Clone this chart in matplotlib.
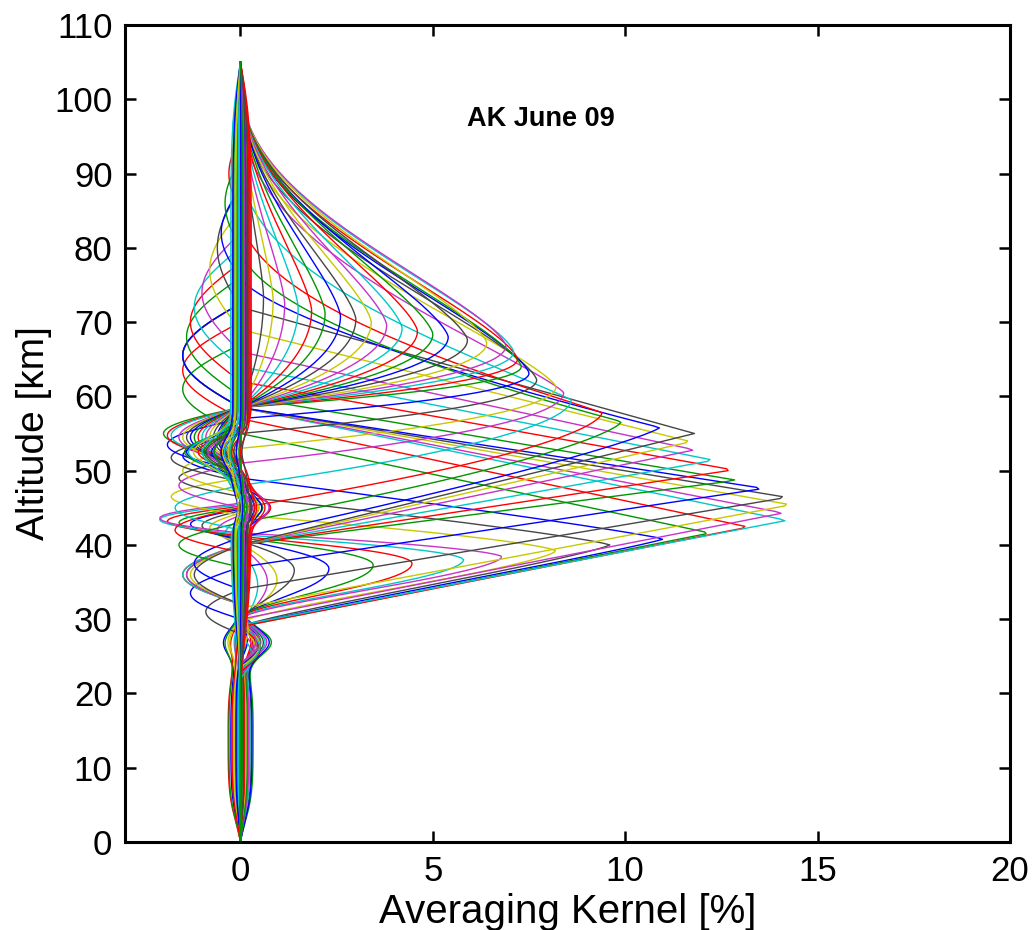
import numpy as np
import matplotlib
matplotlib.use("Agg")
import matplotlib.pyplot as plt

# ---------------- data ----------------
alt = np.arange(0.0, 105.001, 0.25)          # altitude grid [km]

# active kernels, ordered by nominal altitude
peak_alt = [34.5, 35.0, 35.3, 36.6, 36.8, 37.3, 37.5, 38.0, 38.4, 39.2,
            40.0, 40.8, 41.6, 42.4, 43.3, 44.3, 45.4, 46.4, 47.6, 48.7,
            50.1, 51.4, 52.8, 53.9, 55.0, 55.8, 56.6, 57.8, 59.5, 60.5,
            61.3, 62.2, 63.1, 64.0, 65.0, 66.0, 66.8, 67.2, 67.6, 68.0,
            68.4, 68.8, 69.2, 69.6, 70.0, 70.4, 70.8, 71.2, 71.6, 72.0,
            72.5, 73.0, 73.5]
peak_val = [0.45, 0.7, 0.95, 1.4, 2.3, 3.45, 4.46, 5.8, 6.8, 8.2,
            9.6, 11.0, 12.2, 13.2, 14.2, 14.1, 14.3, 14.2, 13.6, 12.9,
            12.8, 12.3, 11.8, 11.7, 11.8, 10.9, 9.9, 9.4, 8.6, 8.4,
            8.2, 7.7, 7.5, 7.3, 7.2, 7.1, 6.9, 6.4, 5.9, 5.4,
            5.0, 4.6, 4.2, 3.8, 3.4, 3.0, 2.6, 2.2, 1.85, 1.5,
            1.15, 0.85, 0.6]
# altitude where the main lobe reaches zero below / above the peak
base_low = [28.0, 28.5, 29.0, 29.5, 29.8, 30.0, 30.0, 30.0, 30.0, 29.5,
            29.0, 29.0, 29.0, 29.0, 29.2, 30.0, 31.5, 34.0, 37.0, 40.0,
            40.0, 40.0, 40.0, 40.0, 40.0, 41.0, 43.0, 45.0, 48.0, 51.0,
            53.0, 55.0, 57.0, 58.5, 58.5, 58.5, 58.5, 58.5, 58.5, 58.5,
            58.5, 58.5, 58.5, 58.5, 58.5, 58.5, 58.5, 58.5, 58.5, 58.5,
            58.5, 58.5, 58.5]
base_up = [39.5, 40.0, 40.3, 40.6, 40.8, 41.0, 41.2, 41.4, 41.6, 44.0,
           46.5, 49.0, 55.0, 57.0, 58.5, 58.5, 58.5, 58.5, 58.5, 60.0,
           62.0, 64.0, 66.0, 69.0, 72.0, 76.0, 80.0, 85.0, 92.0, 100.0,
           101.0, 102.0, 103.0, 103.0, 103.5, 104.0, 104.0, 104.0, 104.0, 104.0,
           104.5, 104.5, 104.5, 104.5, 104.5, 104.5, 105.0, 105.0, 105.0, 105.0,
           105.0, 105.0, 105.0]
# flank shapes: (1 - t**round) ** bend  (round 1 = sharp tip, bend 1 = straight flank)
low_round = [2.0, 2.0, 2.0, 2.0, 2.0, 2.0, 2.0, 1.8, 1.6, 1.4,
             1.2, 1.1, 1.0, 1.0, 1.0, 1.0, 1.0, 1.0, 1.0, 1.0,
             1.0, 1.0, 1.0, 1.0, 1.0, 1.2, 1.4, 1.6, 1.8, 2.0,
             2.0, 2.0, 2.0, 2.0, 2.0, 2.0, 2.0, 2.0, 2.0, 2.0,
             2.0, 2.0, 2.0, 2.0, 2.0, 2.0, 2.0, 2.0, 2.0, 2.0,
             2.0, 2.0, 2.0]
low_bend = [2.0, 2.0, 2.0, 2.0, 2.0, 2.0, 2.0, 1.8, 1.6, 1.4,
            1.2, 1.1, 1.0, 1.0, 1.0, 1.0, 1.0, 1.0, 1.0, 1.0,
            1.0, 1.0, 1.0, 1.0, 1.0, 1.0, 1.0, 1.0, 1.0, 1.0,
            1.0, 1.0, 1.0, 1.0, 1.0, 1.0, 1.0, 1.0, 1.0, 1.0,
            1.0, 1.0, 1.0, 1.0, 1.0, 1.0, 1.0, 1.0, 1.0, 1.0,
            1.0, 1.0, 1.0]
up_round = [2.0, 2.0, 2.0, 2.0, 2.0, 2.0, 2.0, 1.8, 1.6, 1.4,
            1.2, 1.1, 1.0, 1.0, 1.0, 1.0, 1.0, 1.0, 1.0, 1.0,
            1.0, 1.0, 1.0, 1.0, 1.0, 1.0, 1.0, 1.05, 1.1, 1.2,
            1.3, 1.4, 1.4, 1.4, 1.4, 1.4, 1.4, 1.4, 1.4, 1.4,
            1.4, 1.4, 1.4, 1.4, 1.4, 1.4, 1.4, 1.4, 1.4, 1.4,
            1.4, 1.4, 1.4]
up_bend = [1.2, 1.2, 1.2, 1.2, 1.2, 1.2, 1.2, 1.1, 1.0, 1.0,
           1.0, 1.0, 1.0, 1.0, 1.0, 1.0, 1.0, 1.0, 1.0, 1.0,
           1.0, 1.0, 1.0, 1.0, 1.0, 1.4, 1.7, 2.0, 2.2, 2.4,
           2.5, 2.6, 2.6, 2.6, 2.6, 2.6, 2.6, 2.6, 2.6, 2.6,
           2.6, 2.6, 2.6, 2.6, 2.6, 2.6, 2.6, 2.6, 2.6, 2.6,
           2.6, 2.6, 2.6]
# side lobe below the lower base (positive = negative excursion) and its extent
low_lobe = [-0.3, -0.35, -0.4, -0.45, -0.5, -0.5, -0.5, -0.5, -0.5, -0.5,
            -0.5, -0.5, -0.5, -0.5, -0.5, -0.4, -0.2, 0.9, 1.3, 1.4,
            1.5, 1.5, 1.4, 1.3, 1.2, 1.2, 1.6, 1.7, 1.7, 1.6,
            1.5, 1.8, 1.9, 2.0, 1.9, 1.8, 1.6, 1.5, 1.4, 1.3,
            1.2, 1.1, 1.0, 0.9, 0.8, 0.7, 0.6, 0.55, 0.5, 0.45,
            0.4, 0.3, 0.25]
low_lobe_len = [6.0, 6.0, 6.0, 6.0, 6.0, 6.0, 6.0, 6.0, 6.0, 6.0,
                6.0, 6.0, 6.0, 6.0, 6.0, 6.0, 6.0, 6.0, 7.0, 8.0,
                8.0, 8.0, 8.0, 8.0, 8.0, 7.0, 6.0, 6.0, 6.0, 6.0,
                6.0, 6.5, 7.0, 7.0, 7.5, 7.5, 8.0, 8.0, 8.0, 8.0,
                8.0, 8.0, 8.0, 8.0, 8.0, 8.0, 8.0, 8.0, 8.0, 8.0,
                8.0, 8.0, 8.0]
up_lobe = [0.4, 0.6, 0.8, 1.0, 1.3, 1.6, 1.9, 2.1, 2.1, 1.8,
           1.6, 1.5, 1.5, 1.5, 1.5, 1.5, 1.5, 1.5, 1.5, 1.4,
           1.3, 1.2, 1.0, 0.8, 0.6, 0.5, 0.4, 0.3, 0.2, 0.0,
           0.0, 0.0, 0.0, 0.0, 0.0, 0.0, 0.0, 0.0, 0.0, 0.0,
           0.0, 0.0, 0.0, 0.0, 0.0, 0.0, 0.0, 0.0, 0.0, 0.0,
           0.0, 0.0, 0.0]
up_lobe_len = [4.0, 4.0, 4.0, 4.0, 4.0, 4.0, 4.0, 4.0, 4.0, 5.0,
               5.0, 6.0, 12.0, 13.0, 14.0, 14.0, 14.0, 14.0, 14.0, 16.0,
               16.0, 16.0, 16.0, 16.0, 16.0, 12.0, 12.0, 10.0, 8.0, 1.0,
               1.0, 1.0, 1.0, 1.0, 1.0, 1.0, 1.0, 1.0, 1.0, 1.0,
               1.0, 1.0, 1.0, 1.0, 1.0, 1.0, 1.0, 1.0, 1.0, 1.0,
               1.0, 1.0, 1.0]

# near-zero kernels of the lowest levels
low_level_plateau = [0.05, 0.12, -0.08, 0.20, -0.15, 0.28, -0.25, 0.33, -0.32, 0.25,
                     -0.20, 0.15, -0.10, 0.30, -0.30, 0.10, -0.05, 0.22, -0.18, 0.08,
                     -0.12, 0.18, -0.22]
low_level_bump = [0.10, 0.25, -0.15, 0.40, -0.30, 0.55, -0.40, 0.75, -0.20, 0.60,
                  -0.10, 0.45, 0.05, 0.70, -0.35, 0.30, 0.15, 0.65, -0.25, 0.35,
                  0.20, 0.50, -0.05]
# near-zero kernels of the highest levels
high_level_plateau = [0.10, -0.05, 0.20, -0.15, 0.25, -0.22, 0.05, 0.15, -0.10, 0.28,
                      -0.25, 0.00, 0.18, -0.08, 0.12, -0.18, 0.22, -0.02, 0.08, -0.12,
                      0.15, -0.20, 0.03, 0.25, -0.06, 0.10, -0.14, 0.19, 0.01, 0.06]
high_level_wave = [1.5, 1.4, 1.3, 1.2, 1.1, 1.0, 0.95, 0.9, 0.85, 0.8,
                   0.75, 0.7, 0.65, 0.6, 0.55, 0.5, 0.45, 0.4, 0.38, 0.35,
                   0.32, 0.3, 0.28, 0.25, 0.22, 0.2, 0.18, 0.15, 0.12, 0.1]

colors = ['#00c8c8', '#c832c8', '#c8c800', '#464646', '#0000ff', '#009600', '#ff0000']

x_ticks = [0, 5, 10, 15, 20]
y_ticks = list(range(0, 111, 10))

# ---------------- build the curves ----------------
def gauss(z, c, s):
    return np.exp(-((z - c) / s) ** 2)


def flank(t, rnd, bend):
    t = np.clip(t, 0.0, 1.0)
    return np.clip(1.0 - t ** rnd, 0.0, 1.0) ** bend


kernels = []
for i in range(len(low_level_plateau)):
    taper = (1 - np.exp(-alt / 2.5)) * np.exp(-((alt - 13.0) / 12.0) ** 4)
    kernels.append(low_level_plateau[i] * taper + low_level_bump[i] * gauss(alt, 27.0, 2.5))

for i in range(len(peak_alt)):
    p, lo_b, up_b = peak_alt[i], base_low[i], base_up[i]
    lo = flank((p - alt) / (p - lo_b), low_round[i], low_bend[i])
    hi = flank((alt - p) / (up_b - p), up_round[i], up_bend[i])
    k = peak_val[i] * np.where(alt < p, lo, hi)
    m = (alt < lo_b) & (alt > lo_b - low_lobe_len[i])
    k = k - np.where(m, low_lobe[i] * np.sin(np.pi * (lo_b - alt) / low_lobe_len[i]), 0.0)
    m = (alt > up_b) & (alt < up_b + up_lobe_len[i])
    k = k - np.where(m, up_lobe[i] * np.sin(np.pi * (alt - up_b) / up_lobe_len[i]), 0.0)
    kernels.append(k)

for i in range(len(high_level_plateau)):
    shape = np.exp(-((alt - 65.0) / 38.0) ** 8) * (1 - np.exp(-(105.0 - alt) / 2.0))
    wave = -gauss(alt, 52.5, 2.6) + 0.45 * gauss(alt, 45.0, 2.0)
    kernels.append(high_level_plateau[i] * shape + high_level_wave[i] * wave)

# ---------------- plot ----------------
fig = plt.figure(figsize=(10.35, 9.3), dpi=100)
ax = fig.add_axes([125 / 1035, 1 - 842 / 930, 885 / 1035, 817 / 930])

ncol = len(colors)
nlow = len(low_level_plateau)
for j, k in enumerate(kernels):
    ax.plot(k, alt, color=colors[(j - nlow) % ncol], lw=1.0)

ax.set_xlim(-3, 20)
ax.set_ylim(0, 110)
ax.set_xticks(x_ticks)
ax.set_yticks(y_ticks)
ax.tick_params(direction='in', length=8, width=1.8, top=True, right=True,
               labelsize=25, pad=9)
for lab in ax.get_xticklabels() + ax.get_yticklabels():
    lab.set_family('Liberation Sans')
for s in ax.spines.values():
    s.set_linewidth(2.2)

ax.set_xlabel('Averaging Kernel [%]', fontsize=29, family='Liberation Sans', labelpad=4)
ax.set_ylabel('Altitude [km]', fontsize=28, family='Liberation Sans', labelpad=2)
ax.text(7.8, 97.3, 'AK June 09', ha='center', va='center', fontsize=19.5,
        fontweight='bold', family='Liberation Sans')

fig.savefig('out.png', dpi=100)
